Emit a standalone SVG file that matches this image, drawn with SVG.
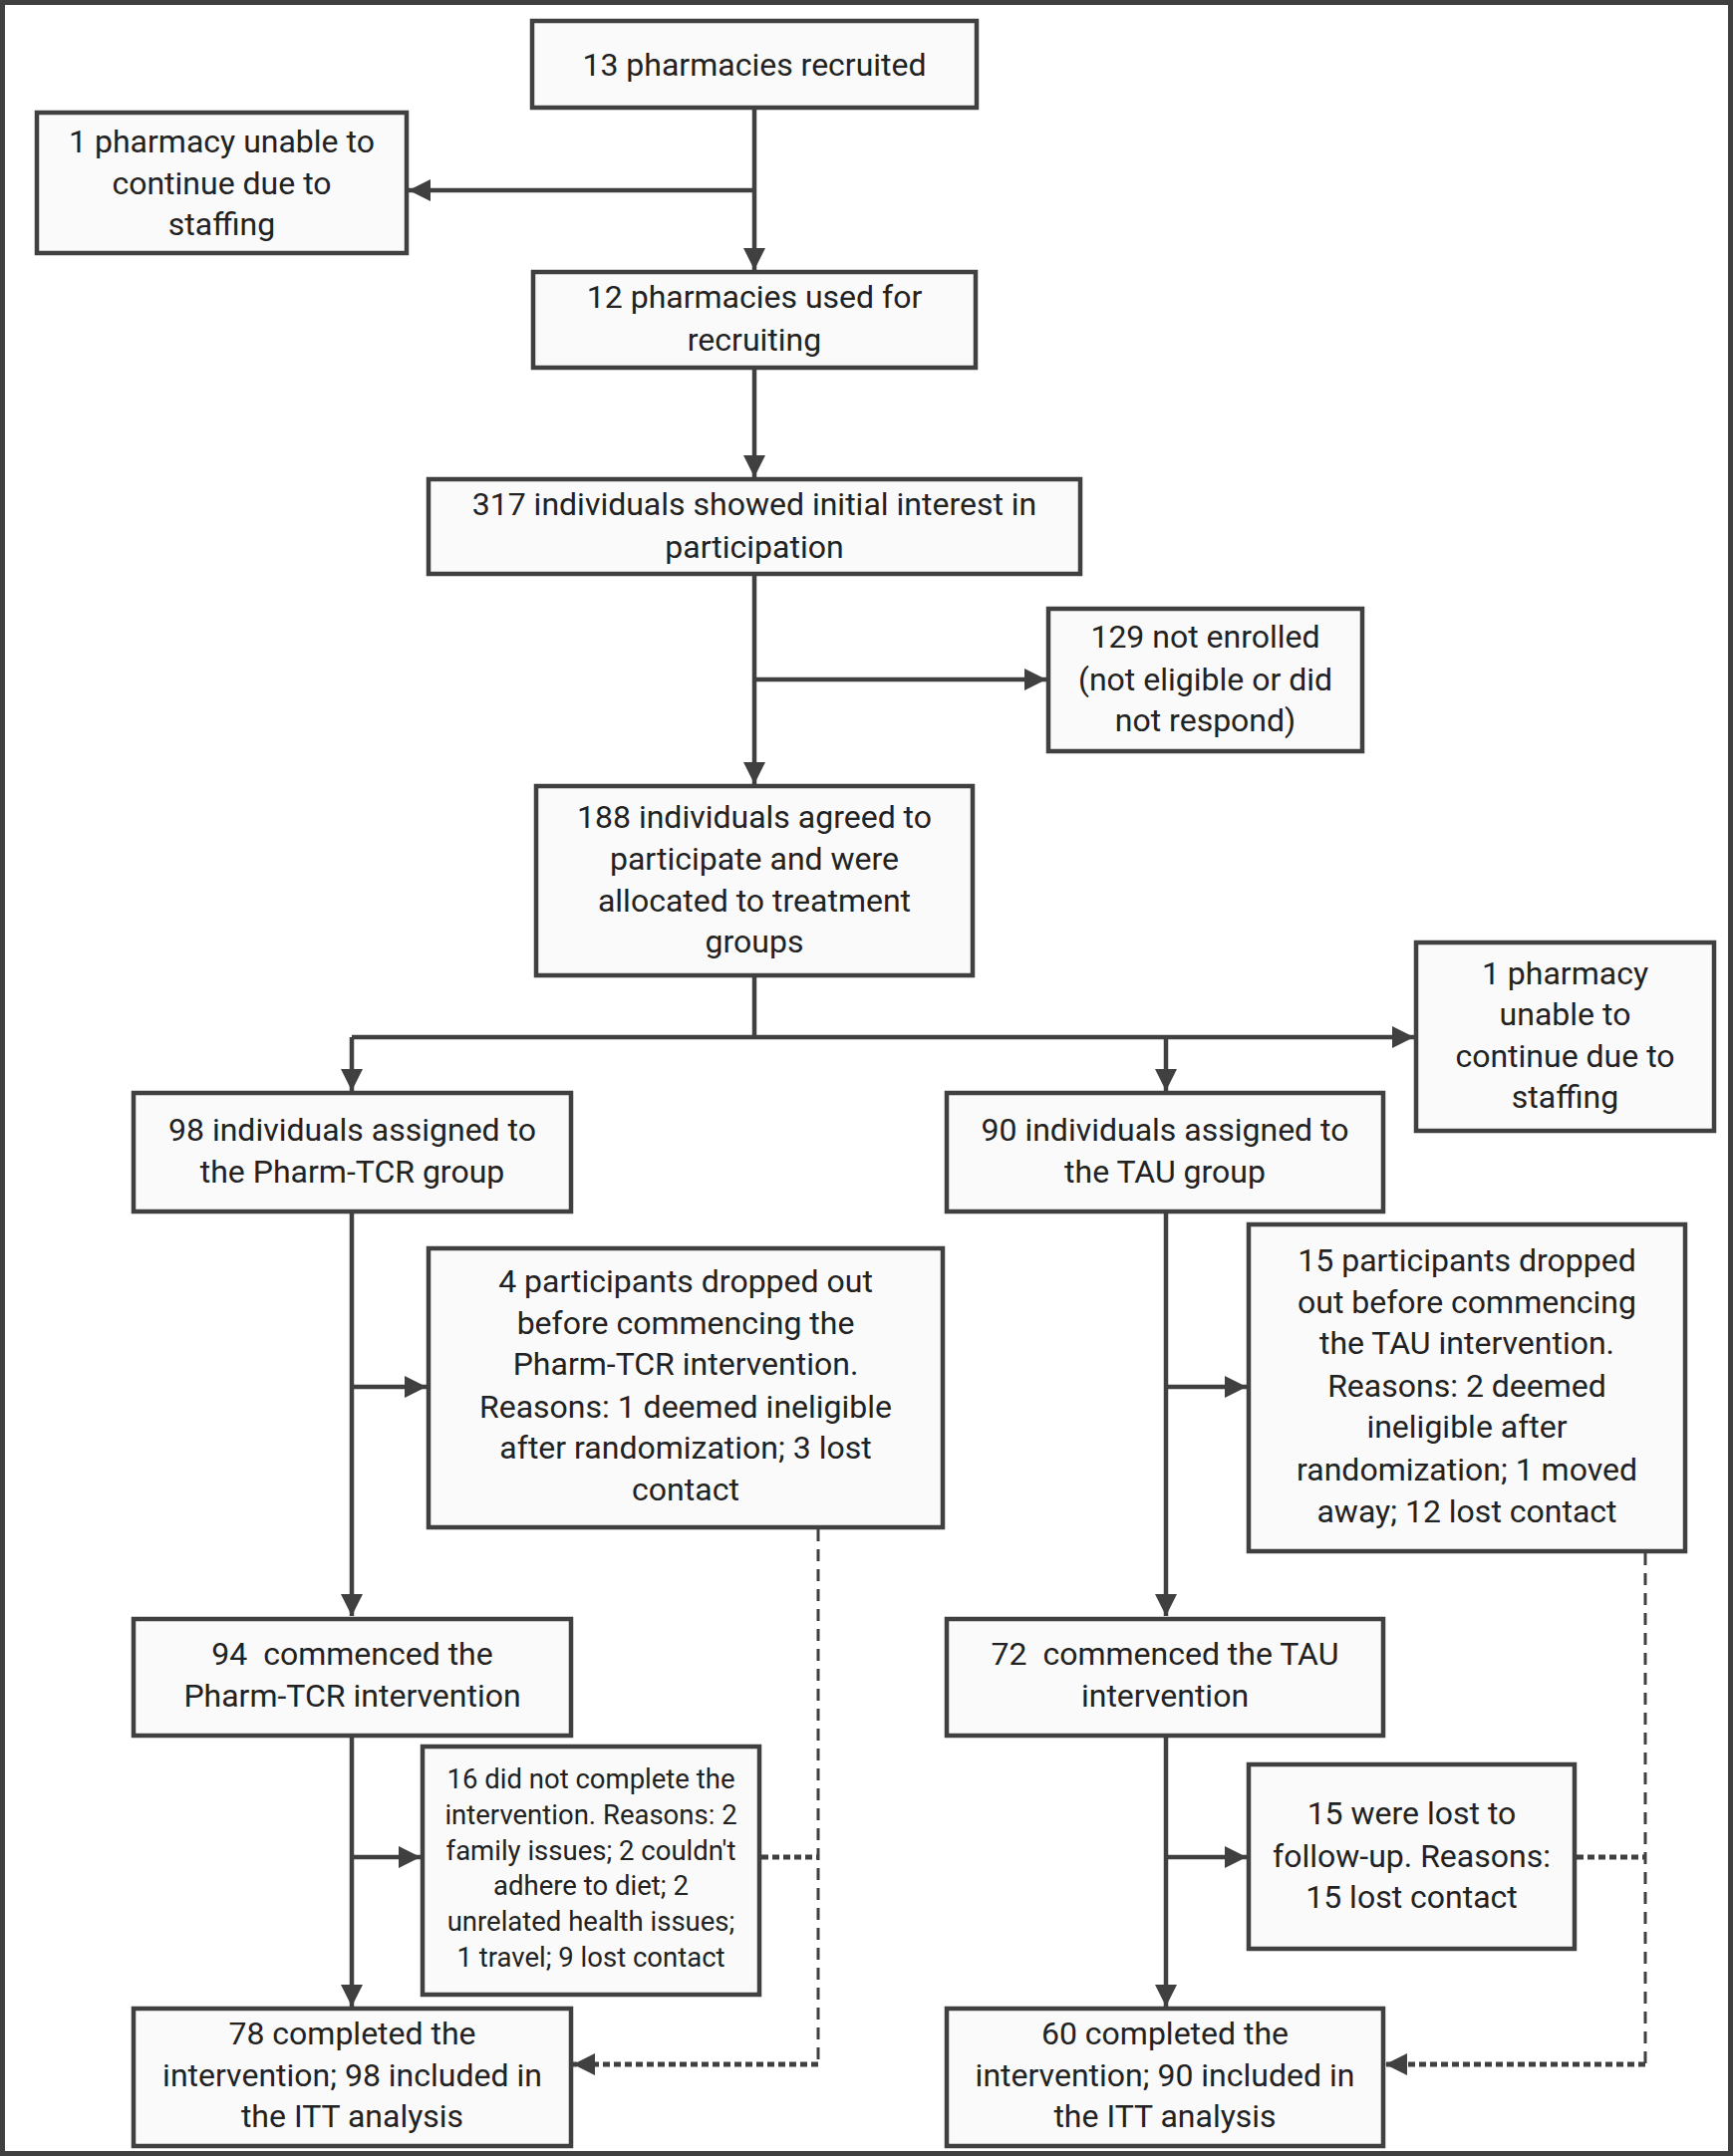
<svg xmlns="http://www.w3.org/2000/svg" width="1739" height="2164" viewBox="0 0 1739 2164">
<style>
.box{fill:#fafafa;stroke:#404040;stroke-width:4.5}
.t{font-family:Roboto,"Liberation Sans",sans-serif;font-size:32px;fill:#222;text-anchor:middle}
.s{font-size:27.5px}
.c{fill:none;stroke:#404040;stroke-width:4.5}
.d{fill:none;stroke:#404040;stroke-width:3;stroke-dasharray:12 8}
.o{fill:none;stroke:#404040;stroke-width:5;stroke-dasharray:7 4}
</style>
<defs>
<marker id="ah" markerUnits="userSpaceOnUse" markerWidth="22" markerHeight="22" refX="22" refY="11" orient="auto"><path d="M0,0 L22,11 L0,22 Z" fill="#404040"/></marker>
</defs>
<rect x="2.5" y="2.5" width="1734" height="2159" fill="#fff" stroke="#404040" stroke-width="5"/>
<g id="connectors">
<path class="c" d="M757,108 V271" marker-end="url(#ah)"/>
<path class="c" d="M757,191 H410" marker-end="url(#ah)"/>
<path class="c" d="M757,369 V479" marker-end="url(#ah)"/>
<path class="c" d="M757,576 V787" marker-end="url(#ah)"/>
<path class="c" d="M757,682 H1050" marker-end="url(#ah)"/>
<path class="c" d="M757,979 V1041"/>
<path class="c" d="M353,1041 H1419" marker-end="url(#ah)"/>
<path class="c" d="M353,1041 V1095" marker-end="url(#ah)"/>
<path class="c" d="M1170,1041 V1095" marker-end="url(#ah)"/>
<path class="c" d="M353,1216 V1622" marker-end="url(#ah)"/>
<path class="c" d="M353,1392 H428" marker-end="url(#ah)"/>
<path class="c" d="M1170,1216 V1622" marker-end="url(#ah)"/>
<path class="c" d="M1170,1392 H1251" marker-end="url(#ah)"/>
<path class="c" d="M353,1742 V2014" marker-end="url(#ah)"/>
<path class="c" d="M353,1864 H422" marker-end="url(#ah)"/>
<path class="c" d="M1170,1742 V2014" marker-end="url(#ah)"/>
<path class="c" d="M1170,1864 H1251" marker-end="url(#ah)"/>
<path class="d" d="M821,1535 V2072"/>
<path class="d" d="M1651,1559 V2072"/>
<path class="o" d="M764,1864 H821"/>
<path class="o" d="M1582,1864 H1651"/>
<path class="o" d="M821,2072 H575" marker-end="url(#ah)"/>
<path class="o" d="M1651,2072 H1390" marker-end="url(#ah)"/>
</g>
<g id="n1"><rect class="box" x="534" y="21" width="446" height="87"/><text class="t" x="757" y="76">13 pharmacies recruited</text></g>
<g id="n2"><rect class="box" x="37" y="113" width="371" height="141"/><text class="t" x="222.5"><tspan x="222.5" y="153">1 pharmacy unable to</tspan><tspan x="222.5" y="195">continue due to</tspan><tspan x="222.5" y="236">staffing</tspan></text></g>
<g id="n3"><rect class="box" x="535" y="273" width="444" height="96"/><text class="t"><tspan x="757" y="309">12 pharmacies used for</tspan><tspan x="757" y="352">recruiting</tspan></text></g>
<g id="n4"><rect class="box" x="430" y="481" width="654" height="95"/><text class="t"><tspan x="757" y="517">317 individuals showed initial interest in</tspan><tspan x="757" y="560">participation</tspan></text></g>
<g id="n5"><rect class="box" x="1052" y="611" width="315" height="143"/><text class="t"><tspan x="1209.5" y="650">129 not enrolled</tspan><tspan x="1209.5" y="693">(not eligible or did</tspan><tspan x="1209.5" y="734">not respond)</tspan></text></g>
<g id="n6"><rect class="box" x="538" y="789" width="438" height="190"/><text class="t"><tspan x="757" y="831">188 individuals agreed to</tspan><tspan x="757" y="873">participate and were</tspan><tspan x="757" y="915">allocated to treatment</tspan><tspan x="757" y="956">groups</tspan></text></g>
<g id="n7"><rect class="box" x="1421" y="946" width="299" height="189"/><text class="t"><tspan x="1570.5" y="988">1 pharmacy</tspan><tspan x="1570.5" y="1029">unable to</tspan><tspan x="1570.5" y="1071">continue due to</tspan><tspan x="1570.5" y="1112">staffing</tspan></text></g>
<g id="n8"><rect class="box" x="134" y="1097" width="439" height="119"/><text class="t"><tspan x="353.5" y="1145">98 individuals assigned to</tspan><tspan x="353.5" y="1187">the Pharm-TCR group</tspan></text></g>
<g id="n9"><rect class="box" x="950" y="1097" width="438" height="119"/><text class="t"><tspan x="1169" y="1145">90 individuals assigned to</tspan><tspan x="1169" y="1187">the TAU group</tspan></text></g>
<g id="n10"><rect class="box" x="430" y="1253" width="516" height="280"/><text class="t"><tspan x="688" y="1297">4 participants dropped out</tspan><tspan x="688" y="1339">before commencing the</tspan><tspan x="688" y="1380">Pharm-TCR intervention.</tspan><tspan x="688" y="1423">Reasons: 1 deemed ineligible</tspan><tspan x="688" y="1464">after randomization; 3 lost</tspan><tspan x="688" y="1506">contact</tspan></text></g>
<g id="n11"><rect class="box" x="1253" y="1229" width="438" height="328"/><text class="t"><tspan x="1472" y="1276">15 participants dropped</tspan><tspan x="1472" y="1318">out before commencing</tspan><tspan x="1472" y="1359">the TAU intervention.</tspan><tspan x="1472" y="1402">Reasons: 2 deemed</tspan><tspan x="1472" y="1443">ineligible after</tspan><tspan x="1472" y="1486">randomization; 1 moved</tspan><tspan x="1472" y="1528">away; 12 lost contact</tspan></text></g>
<g id="n12"><rect class="box" x="134" y="1625" width="439" height="117"/><text class="t" xml:space="preserve"><tspan x="353.5" y="1671">94  commenced the</tspan><tspan x="353.5" y="1713">Pharm-TCR intervention</tspan></text></g>
<g id="n13"><rect class="box" x="950" y="1625" width="438" height="117"/><text class="t" xml:space="preserve"><tspan x="1169" y="1671">72  commenced the TAU</tspan><tspan x="1169" y="1713">intervention</tspan></text></g>
<g id="n14"><rect class="box" x="424" y="1753" width="338" height="249"/><text class="t s"><tspan x="593" y="1795">16 did not complete the</tspan><tspan x="593" y="1831">intervention. Reasons: 2</tspan><tspan x="593" y="1867">family issues; 2 couldn't</tspan><tspan x="593" y="1902">adhere to diet; 2</tspan><tspan x="593" y="1938">unrelated health issues;</tspan><tspan x="593" y="1974">1 travel; 9 lost contact</tspan></text></g>
<g id="n15"><rect class="box" x="1253" y="1771" width="327" height="185"/><text class="t"><tspan x="1416.5" y="1831">15 were lost to</tspan><tspan x="1416.5" y="1874">follow-up. Reasons:</tspan><tspan x="1416.5" y="1915">15 lost contact</tspan></text></g>
<g id="n16"><rect class="box" x="134" y="2016" width="439" height="138"/><text class="t"><tspan x="353.5" y="2052">78 completed the</tspan><tspan x="353.5" y="2094">intervention; 98 included in</tspan><tspan x="353.5" y="2135">the ITT analysis</tspan></text></g>
<g id="n17"><rect class="box" x="950" y="2016" width="438" height="138"/><text class="t"><tspan x="1169" y="2052">60 completed the</tspan><tspan x="1169" y="2094">intervention; 90 included in</tspan><tspan x="1169" y="2135">the ITT analysis</tspan></text></g>
</svg>
